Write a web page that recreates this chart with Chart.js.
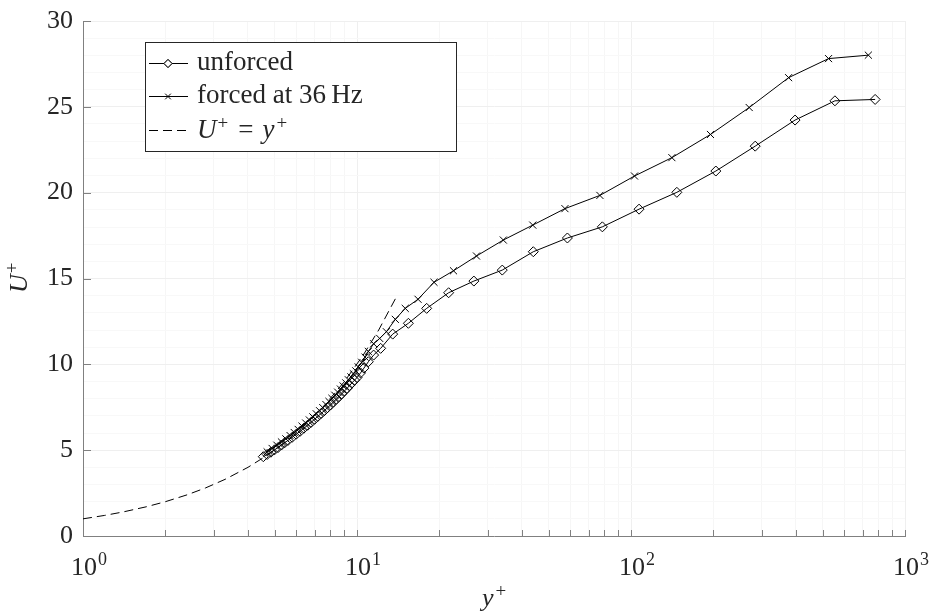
<!DOCTYPE html>
<html>
<head>
<meta charset="utf-8">
<script src="https://cdn.jsdelivr.net/npm/chart.js@4"></script>
<style>body{margin:0;background:#fff}</style>
</head>
<body>
<canvas id="chart" width="935" height="616"></canvas>
<script>
// unforced profile (y+, U+)
var yPlusUnforced = [4.55, 4.7, 4.85, 5.0, 5.15, 5.3, 5.45, 5.6, 5.8, 6.0, 6.2, 6.4, 6.6, 6.8, 7.0, 7.2, 7.4, 7.6, 7.8, 8.0,
    8.2, 8.4, 8.6, 8.8, 9.0, 9.2, 9.4, 9.6, 9.8, 10.0, 10.3, 10.6, 11.0, 11.5, 12.2, 13.5, 15.4, 17.96, 21.6, 26.7,
    33.9, 44.0, 58.6, 78.6, 107, 147, 204, 284, 397, 555, 778];
var uPlusUnforced = [4.62, 4.75, 4.88, 5.02, 5.15, 5.3, 5.44, 5.57, 5.75, 5.93, 6.1, 6.28, 6.45, 6.62, 6.8, 6.97, 7.14, 7.3, 7.47, 7.63,
    7.8, 7.96, 8.12, 8.28, 8.45, 8.6, 8.77, 8.93, 9.08, 9.23, 9.5, 9.78, 10.15, 10.54, 10.93, 11.76, 12.39, 13.26, 14.17, 14.85,
    15.49, 16.56, 17.36, 18.01, 19.04, 20.02, 21.26, 22.71, 24.23, 25.35, 25.43];

// forced at 36 Hz
var yPlusForced = [4.7, 4.9, 5.1, 5.3, 5.5, 5.7, 5.9, 6.1, 6.3, 6.5, 6.7, 6.9, 7.1, 7.3, 7.5, 7.7, 7.9, 8.1, 8.3, 8.5,
    8.7, 8.9, 9.1, 9.3, 9.5, 9.7, 9.9, 10.1, 10.4, 10.7, 11.0, 11.5, 12.1, 12.8, 13.8, 15.0, 16.7, 19.1, 22.5, 27.3,
    34.2, 43.8, 57.4, 77, 103, 141, 195, 270, 376, 526, 735];
var uPlusForced = [4.9, 5.1, 5.29, 5.48, 5.66, 5.85, 6.03, 6.21, 6.4, 6.58, 6.76, 6.94, 7.12, 7.3, 7.48, 7.66, 7.84, 8.02, 8.2, 8.38,
    8.56, 8.74, 8.92, 9.1, 9.27, 9.45, 9.62, 9.85, 10.12, 10.42, 10.75, 11.2, 11.51, 11.9, 12.62, 13.26, 13.79, 14.78, 15.45, 16.31,
    17.24, 18.11, 19.07, 19.84, 20.97, 22.04, 23.39, 24.96, 26.70, 27.81, 28.01];

// viscous sublayer U+ = y+
var yPlusLinear = [1, 1.2, 1.4, 1.7, 2, 2.4, 2.8, 3.3, 4, 4.7, 5.5, 6.5, 7.5, 9, 10.5, 12, 14];
var uPlusLinear = [1, 1.2, 1.4, 1.7, 2, 2.4, 2.8, 3.3, 4, 4.7, 5.5, 6.5, 7.5, 9, 10.5, 12, 14];

// axes
var xTicks = [1, 2, 3, 4, 5, 6, 7, 8, 9, 10, 20, 30, 40, 50, 60, 70, 80, 90,
    100, 200, 300, 400, 500, 600, 700, 800, 900, 1000];
var xMajorTicks = [1, 10, 100, 1000];
var xMajorExponents = ['0', '1', '2', '3'];
var yTicks = [0, 5, 10, 15, 20, 25, 30];

var SERIF = '"Liberation Serif", "Times New Roman", serif';
var TEXT = '#262626';

function toPoints(xs, ys) {
    var pts = [];
    for (var i = 0; i < xs.length; i++) pts.push({x: xs[i], y: ys[i]});
    return pts;
}

function isPow10(v) {
    return xMajorTicks.indexOf(v) >= 0;
}

function drawPlus(ctx, x, y) {
    ctx.font = '19px ' + SERIF;
    ctx.fillText('+', x, y);
    return ctx.measureText('+').width;
}

var axisDecor = {
    id: 'axisDecor',
    afterDraw: function(chart) {
        var ctx = chart.ctx;
        var xs = chart.scales.x, ys = chart.scales.y, area = chart.chartArea;
        ctx.save();

        // tick marks pointing inwards
        ctx.strokeStyle = '#808080';
        ctx.lineWidth = 1;
        ctx.beginPath();
        for (var i = 0; i < xTicks.length; i++) {
            var px = Math.round(xs.getPixelForValue(xTicks[i])) + 0.5;
            ctx.moveTo(px, area.bottom);
            ctx.lineTo(px, area.bottom - 6);
        }
        for (var j = 0; j < yTicks.length; j++) {
            var py = Math.round(ys.getPixelForValue(yTicks[j])) + 0.5;
            ctx.moveTo(area.left, py);
            ctx.lineTo(area.left + 8, py);
        }
        ctx.stroke();

        // x tick labels 10^k
        ctx.fillStyle = TEXT;
        ctx.textBaseline = 'alphabetic';
        ctx.textAlign = 'left';
        for (var k = 0; k < xMajorTicks.length; k++) {
            var tx = xs.getPixelForValue(xMajorTicks[k]) - 12;
            ctx.font = '26px ' + SERIF;
            ctx.fillText('10', tx, 575);
            var w = ctx.measureText('10').width;
            ctx.font = '18px ' + SERIF;
            ctx.fillText(xMajorExponents[k], tx + w + 1, 565);
        }

        // x title y+
        ctx.font = 'italic 26px ' + SERIF;
        var xt = (area.left + area.right) / 2 - 12;
        ctx.fillText('y', xt, 606);
        var wy = ctx.measureText('y').width;
        drawPlus(ctx, xt + wy + 2, 597);

        // y title U+
        ctx.save();
        ctx.translate(27, 293);
        ctx.rotate(-Math.PI / 2);
        ctx.font = 'italic 26px ' + SERIF;
        ctx.fillText('U', 0, 0);
        var wu = ctx.measureText('U').width;
        drawPlus(ctx, wu + 1, -9);
        ctx.restore();

        ctx.restore();
    }
};

var legendBox = {
    id: 'legendBox',
    afterDraw: function(chart) {
        var ctx = chart.ctx;
        var sets = chart.data.datasets;
        ctx.save();
        ctx.fillStyle = '#fff';
        ctx.fillRect(145.5, 42.5, 311, 109);
        ctx.strokeStyle = '#262626';
        ctx.lineWidth = 1;
        ctx.strokeRect(145.5, 42.5, 311, 109);

        var rows = [63, 96, 130];
        var x0 = 149, x1 = 188, xm = 168;
        for (var i = 0; i < rows.length; i++) {
            var ds = sets[i];
            var y = rows[i] + 0.5;
            ctx.strokeStyle = '#000';
            ctx.lineWidth = 1;
            ctx.setLineDash(ds.borderDash || []);
            ctx.beginPath();
            ctx.moveTo(x0, y);
            ctx.lineTo(x1, y);
            ctx.stroke();
            ctx.setLineDash([]);
            if (ds.pointRadius > 0) {
                Chart.helpers.drawPoint(ctx, {
                    pointStyle: ds.pointStyle,
                    radius: ds.pointRadius - 1,
                    borderWidth: 1
                }, xm, y);
                if (ds.pointStyle === 'rectRot') {
                    ctx.fillStyle = '#fff';
                    ctx.fill();
                    ctx.stroke();
                }
            }
        }

        ctx.fillStyle = TEXT;
        ctx.textBaseline = 'middle';
        ctx.textAlign = 'left';
        ctx.font = '27px ' + SERIF;
        ctx.fillText('unforced', 197, rows[0]);
        ctx.fillText('forced at 36\u2009Hz', 197, rows[1]);

        // U+ = y+
        var x = 197;
        ctx.textBaseline = 'alphabetic';
        var base = rows[2] + 8;
        ctx.font = 'italic 27px ' + SERIF;
        ctx.fillText('U', x, base);
        x += ctx.measureText('U').width + 1;
        x += drawPlus(ctx, x, base - 9) + 10;
        ctx.font = '27px ' + SERIF;
        ctx.fillText('=', x, base);
        x += ctx.measureText('=').width + 9;
        ctx.font = 'italic 27px ' + SERIF;
        ctx.fillText('y', x, base);
        x += ctx.measureText('y').width + 2;
        drawPlus(ctx, x, base - 9);

        ctx.restore();
    }
};

new Chart(document.getElementById('chart'), {
    type: 'scatter',
    data: {
        datasets: [
            {
                label: 'unforced',
                data: toPoints(yPlusUnforced, uPlusUnforced),
                showLine: true,
                borderColor: '#000',
                borderWidth: 1,
                pointStyle: 'rectRot',
                pointRadius: 5,
                pointBorderWidth: 1,
                pointBorderColor: '#000',
                pointBackgroundColor: 'rgba(0,0,0,0)'
            },
            {
                label: 'forced at 36 Hz',
                data: toPoints(yPlusForced, uPlusForced),
                showLine: true,
                borderColor: '#000',
                borderWidth: 1,
                pointStyle: 'crossRot',
                pointRadius: 5,
                pointBorderWidth: 1,
                pointBorderColor: '#000',
                pointBackgroundColor: 'rgba(0,0,0,0)'
            },
            {
                label: 'U+ = y+',
                data: toPoints(yPlusLinear, uPlusLinear),
                showLine: true,
                borderColor: '#000',
                borderWidth: 1,
                borderDash: [9, 5],
                pointRadius: 0
            }
        ]
    },
    options: {
        responsive: false,
        animation: false,
        devicePixelRatio: 1,
        layout: {padding: {top: 21, right: 30, left: 0, bottom: 0}},
        plugins: {legend: {display: false}, tooltip: {enabled: false}},
        scales: {
            x: {
                type: 'logarithmic',
                min: 1,
                max: 1000,
                afterBuildTicks: function(scale) {
                    scale.ticks = xTicks.map(function(v) { return {value: v}; });
                },
                afterFit: function(scale) { scale.height = 80; },
                ticks: {display: false},
                grid: {
                    drawTicks: false,
                    color: function(c) { return isPow10(c.tick.value) ? '#efefef' : '#f6f6f6'; }
                },
                border: {color: '#808080', width: 1}
            },
            y: {
                min: 0,
                max: 30,
                afterFit: function(scale) {
                    scale.width = 83;
                    scale.paddingTop = 0;
                    scale.paddingBottom = 0;
                },
                ticks: {
                    stepSize: 1,
                    autoSkip: false,
                    padding: 10,
                    color: TEXT,
                    font: {family: SERIF, size: 26, lineHeight: 1},
                    callback: function(v) { return v % 5 === 0 ? String(v) : ''; }
                },
                grid: {
                    drawTicks: false,
                    color: function(c) { return c.tick.value % 5 === 0 ? '#efefef' : '#f8f8f8'; }
                },
                border: {color: '#808080', width: 1}
            }
        }
    },
    plugins: [axisDecor, legendBox]
});
</script>
</body>
</html>
